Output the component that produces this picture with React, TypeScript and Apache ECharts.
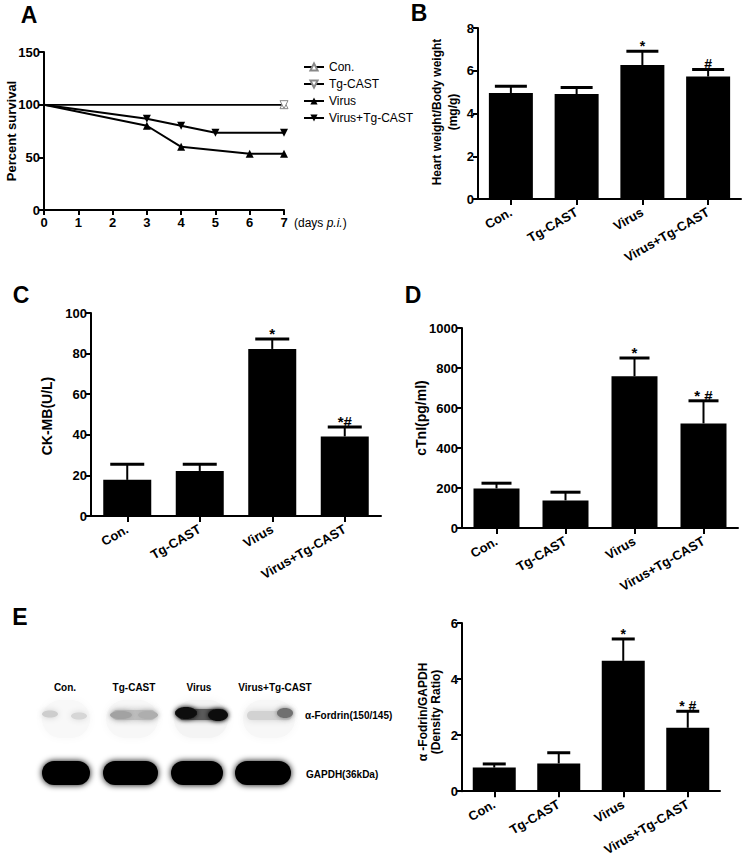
import React, { useEffect, useRef } from 'react';
import * as echarts from 'echarts';

const groups = ['Con.', 'Tg-CAST', 'Virus', 'Virus+Tg-CAST'];

const dayTicks = [0, 1, 2, 3, 4, 5, 6, 7];
const survCon = [[0, 100], [7, 100]];
const survTg = [[0, 100], [7, 100]];
const survVirus = [[0, 100], [3, 80], [4, 60], [6, 53.3], [7, 53.3]];
const survVirusTg = [[0, 100], [3, 86.7], [4, 80], [5, 73.3], [7, 73.3]];

const hwMean = [4.96, 4.91, 6.27, 5.73];
const hwUpper = [5.27, 5.22, 6.91, 6.06];
const hwMarks = ['', '', '*', '#'];

const ckMean = [17.8, 22.2, 82.3, 39.2];
const ckUpper = [25.5, 25.5, 87.2, 43.8];
const ckMarks = ['', '', '*', '*#'];

const ctnMean = [198, 138, 759, 523];
const ctnUpper = [224, 179, 850, 636];
const ctnMarks = ['', '', '*', '* #'];

const fodMean = [0.84, 0.99, 4.65, 2.26];
const fodUpper = [0.97, 1.37, 5.43, 2.85];
const fodMarks = ['', '', '*', '* #'];

const blotLanes = ['Con.', 'Tg-CAST', 'Virus', 'Virus+Tg-CAST'];

const FONT = '"Liberation Sans", Arial, sans-serif';

const axisLine = { show: true, lineStyle: { color: '#000', width: 2 } };
const axisTickY = { show: true, length: 5, lineStyle: { color: '#000', width: 2 } };
const tickLabel = { color: '#000', fontWeight: 'bold', fontSize: 13, fontFamily: FONT, margin: 4, formatter: (v: number) => String(v) };

function catX(gridIndex: number) {
  return {
    type: 'category', gridIndex, data: groups, boundaryGap: true,
    axisLine, axisTick: { show: true, alignWithLabel: true, length: 6, lineStyle: { color: '#000', width: 2 } },
    axisLabel: { color: '#000', fontWeight: 'bold', fontSize: 13, fontFamily: FONT, rotate: 30, interval: 0, margin: 12 },
    splitLine: { show: false },
  };
}
function valY(gridIndex: number, min: number, max: number, interval: number) {
  return {
    type: 'value', gridIndex, min, max, interval,
    axisLine, axisTick: axisTickY, axisLabel: tickLabel, splitLine: { show: false },
  };
}

function barSeries(idx: number, means: number[], w: number) {
  return {
    type: 'bar', xAxisIndex: idx, yAxisIndex: idx, data: means, barWidth: w,
    itemStyle: { color: '#000' }, z: 2,
  };
}

function errSeries(idx: number, means: number[], uppers: number[], marks: string[], capW: number, markSize: number) {
  return {
    type: 'custom', xAxisIndex: idx, yAxisIndex: idx, z: 5,
    data: means.map((m, i) => [i, m, uppers[i]]),
    encode: { x: 0, y: [1, 2] },
    renderItem: (params: any, api: any) => {
      const i = api.value(0);
      const top = api.coord([i, api.value(1)]);
      const up = api.coord([i, api.value(2)]);
      const children: any[] = [
        { type: 'line', shape: { x1: top[0], y1: top[1], x2: up[0], y2: up[1] }, style: { stroke: '#000', lineWidth: 2 } },
        { type: 'line', shape: { x1: up[0] - capW / 2, y1: up[1], x2: up[0] + capW / 2, y2: up[1] }, style: { stroke: '#000', lineWidth: 3 } },
      ];
      const m = marks[params.dataIndex];
      if (m) {
        children.push({
          type: 'text', x: up[0], y: up[1] + 2,
          style: { text: m, fill: '#000', font: `bold ${markSize}px ${FONT}`, align: 'center', verticalAlign: 'bottom' },
        });
      }
      return { type: 'group', children };
    },
  };
}

function lineSeries(name: string, pts: number[][], rotate: number, open: boolean) {
  return {
    type: 'line', name, xAxisIndex: 0, yAxisIndex: 0,
    data: pts.map((p, i) => (i === 0 ? { value: p, symbol: 'none' } : { value: p })),
    symbol: 'triangle', symbolSize: 8, symbolRotate: rotate, showAllSymbol: true,
    lineStyle: { color: '#000', width: open ? 1.5 : 2 },
    itemStyle: open ? { color: '#fff', borderColor: '#888', borderWidth: 1 } : { color: '#000' },
    z: open ? 3 : 4,
  };
}

function vtext(text: string, x: number, y: number, size: number) {
  return {
    type: 'text', x, y, rotation: Math.PI / 2,
    style: { text, fill: '#000', font: `bold ${size}px ${FONT}`, align: 'center', verticalAlign: 'middle' },
  };
}
function letter(text: string, x: number, y: number) {
  return {
    type: 'text', x, y,
    style: { text, fill: '#000', font: `bold 23px ${FONT}`, align: 'center', verticalAlign: 'middle' },
  };
}
function blob(cx: number, cy: number, rx: number, ry: number, color: string, blur: number) {
  return {
    type: 'ellipse', shape: { cx, cy, rx, ry },
    style: { fill: color, shadowBlur: blur, shadowColor: color },
  };
}
function band(x: number, y: number, w: number, h: number, color: string, blur: number) {
  return {
    type: 'rect', shape: { x, y, width: w, height: h, r: h / 2 },
    style: { fill: color, shadowBlur: blur, shadowColor: color },
  };
}

export default function App() {
  const ref = useRef<HTMLDivElement>(null);
  useEffect(() => {
    if (!ref.current) return;
    const chart = echarts.init(ref.current, null, { renderer: 'svg' });
    const option: any = {
      animation: false,
      backgroundColor: '#fff',
      textStyle: { fontFamily: FONT },
      grid: [
        { left: 44, top: 52, width: 240, height: 158 },
        { left: 478, top: 28, width: 263, height: 171 },
        { left: 91, top: 313, width: 290, height: 203 },
        { left: 462, top: 328, width: 276, height: 200 },
        { left: 462, top: 623, width: 258, height: 172 },
      ],
      xAxis: [
        {
          type: 'value', gridIndex: 0, min: dayTicks[0], max: dayTicks[dayTicks.length - 1], interval: 1,
          axisLine, axisTick: { show: true, length: 5, lineStyle: { color: '#000', width: 2 } },
          axisLabel: { ...tickLabel, margin: 6 }, splitLine: { show: false },
        },
        catX(1), catX(2), catX(3), catX(4),
      ],
      yAxis: [
        valY(0, 0, 150, 50),
        valY(1, 0, 8, 2),
        valY(2, 0, 100, 20),
        valY(3, 0, 1000, 200),
        valY(4, 0, 6, 2),
      ],
      legend: {
        orient: 'vertical', left: 298, top: 56, itemWidth: 20, itemHeight: 9, itemGap: 5,
        textStyle: { fontSize: 12, color: '#000', fontFamily: FONT },
        data: ['Con.', 'Tg-CAST', 'Virus', 'Virus+Tg-CAST'],
      },
      series: [
        lineSeries('Con.', survCon, 0, true),
        lineSeries('Tg-CAST', survTg, 180, true),
        lineSeries('Virus', survVirus, 0, false),
        lineSeries('Virus+Tg-CAST', survVirusTg, 180, false),
        barSeries(1, hwMean, 44), errSeries(1, hwMean, hwUpper, hwMarks, 32, 14),
        barSeries(2, ckMean, 48), errSeries(2, ckMean, ckUpper, ckMarks, 34, 15),
        barSeries(3, ctnMean, 46), errSeries(3, ctnMean, ctnUpper, ctnMarks, 30, 15),
        barSeries(4, fodMean, 43), errSeries(4, fodMean, fodUpper, fodMarks, 23, 14),
      ],
      graphic: [
        letter('A', 29, 15), letter('B', 419, 13), letter('C', 21, 295), letter('D', 413, 295), letter('E', 20, 617),
        vtext('Percent survival', 11, 131, 13),
        vtext('Heart weight/Body weight', 437, 112, 12),
        vtext('(mg/g)', 453, 112, 12),
        vtext('CK-MB(U/L)', 47, 416, 14),
        vtext('cTnI(pg/ml)', 421, 418, 14),
        vtext('α -Fodrin/GAPDH', 423, 712, 12),
        vtext('(Density Ratio)', 436, 712, 12),
        {
          type: 'text', x: 294, y: 223,
          style: {
            text: '(days {i|p.i.})', fill: '#000', font: `12px ${FONT}`, verticalAlign: 'middle',
            rich: { i: { fontStyle: 'italic', fontSize: 12, fontFamily: FONT, fill: '#000' } },
          },
        },
        // western blot labels
        ...blotLanes.map((t, i) => ({
          type: 'text', x: [65, 134, 199, 275][i], y: 687,
          style: { text: t, fill: '#000', font: `bold 10px ${FONT}`, align: 'center', verticalAlign: 'middle' },
        })),
        { type: 'text', x: 305, y: 715, style: { text: 'α-Fordrin(150/145)', fill: '#000', font: `bold 10px ${FONT}`, verticalAlign: 'middle' } },
        { type: 'text', x: 306, y: 774, style: { text: 'GAPDH(36kDa)', fill: '#000', font: `bold 10px ${FONT}`, verticalAlign: 'middle' } },
        // faint lane smear backgrounds
        band(42, 700, 48, 38, '#f8f8f8', 8),
        band(106, 700, 52, 38, '#f7f7f7', 8),
        band(174, 700, 54, 38, '#f4f4f4', 8),
        band(243, 700, 52, 38, '#f7f7f7', 8),
        // upper bands
        blob(50, 714, 8, 3.5, '#cdcdcd', 6),
        blob(79, 716, 8, 3.5, '#d6d6d6', 6),
        band(112, 710, 44, 10, '#bdbdbd', 7),
        blob(121, 715, 11, 4, '#a2a2a2', 5),
        blob(148, 715, 10, 4, '#aeaeae', 5),
        band(178, 709, 49, 11, '#5a5a5a', 5),
        blob(186, 713, 11, 6, '#0a0a0a', 5),
        blob(218, 715, 10, 6, '#111111', 5),
        band(247, 711, 45, 9, '#d2d2d2', 7),
        blob(285, 713, 8, 5, '#707070', 5),
        // GAPDH bands
        ...[[42, 90], [103, 158], [171, 223], [235, 291]].map((xs) => band(xs[0], 761, xs[1] - xs[0], 24, '#050505', 6)),
      ],
    };
    chart.setOption(option);
    return () => chart.dispose();
  }, []);
  return <div ref={ref} style={{ position: 'absolute', left: 0, top: 0, width: 744, height: 858, background: '#fff' }} />;
}
